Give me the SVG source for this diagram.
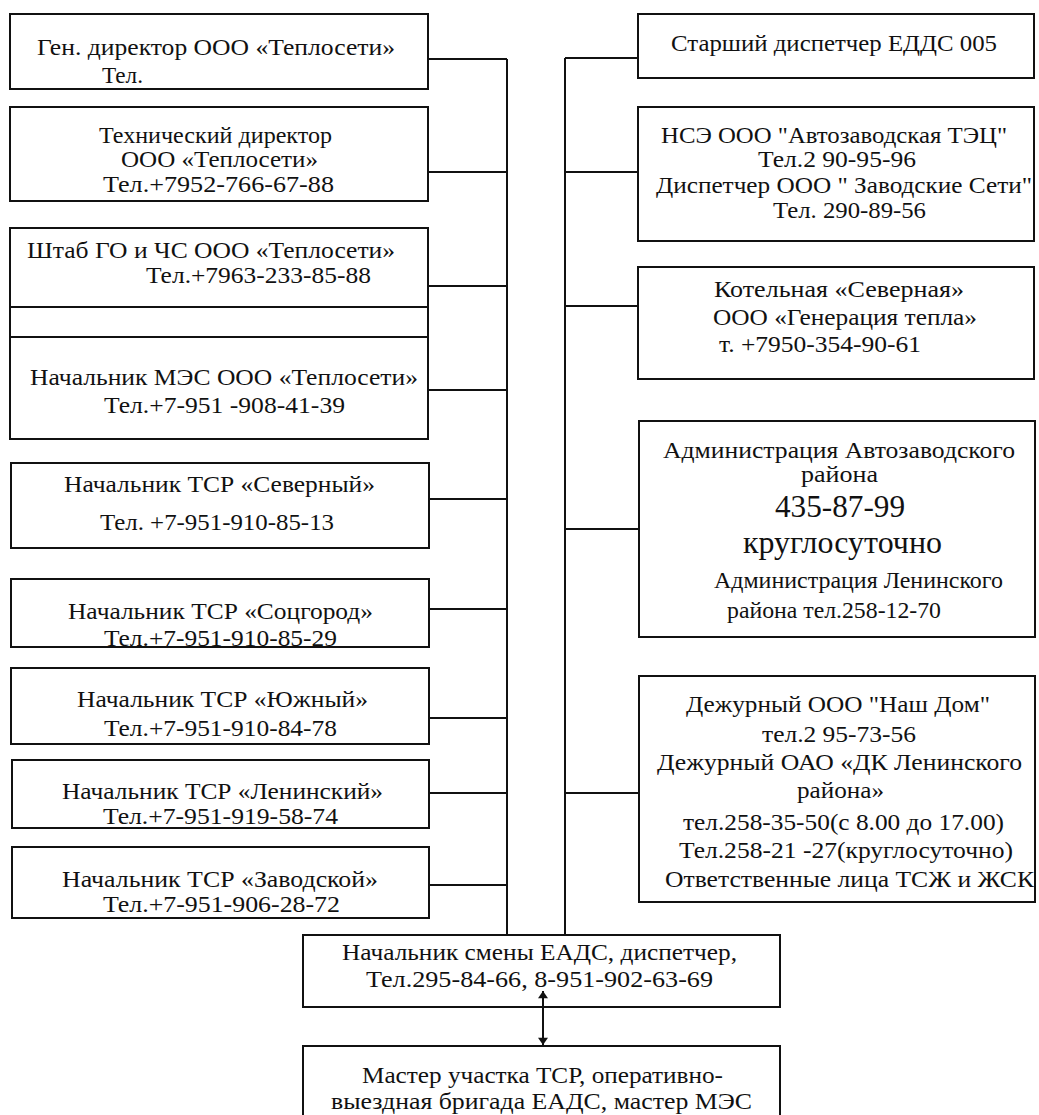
<svg xmlns="http://www.w3.org/2000/svg" width="1039" height="1115" viewBox="0 0 1039 1115">
<style>
.box{fill:#fff;stroke:#111;stroke-width:2}
.ln{fill:none;stroke:#111;stroke-width:2}
text{font-family:'Liberation Serif','Times New Roman',Tinos,'Noto Serif','DejaVu Serif',FreeSerif,Times,serif;font-size:24px;fill:#111}
.big{font-size:31px}
</style>
<defs>
<marker id="ah" viewBox="0 0 10 14" refX="10" refY="7" markerWidth="7" markerHeight="5" orient="auto-start-reverse" markerUnits="strokeWidth">
<path d="M0,0 L10,7 L0,14 z" fill="#111"/>
</marker>
</defs>
<rect width="1039" height="1115" fill="#fff"/>
<g id="gen-director">
<rect class="box" x="10" y="14" width="418" height="75"/>
<text x="37" y="55" textLength="358" lengthAdjust="spacingAndGlyphs">Ген. директор ООО «Теплосети»</text>
<text x="102" y="83" textLength="41" lengthAdjust="spacingAndGlyphs">Тел.</text>
</g>
<g id="tech-director">
<rect class="box" x="10" y="107" width="418" height="94"/>
<text x="99" y="143" textLength="233" lengthAdjust="spacingAndGlyphs">Технический директор</text>
<text x="121" y="167" textLength="197" lengthAdjust="spacingAndGlyphs">ООО «Теплосети»</text>
<text x="103" y="192" textLength="231" lengthAdjust="spacingAndGlyphs">Тел.+7952-766-67-88</text>
</g>
<g id="shtab-go-chs">
<rect class="box" x="10" y="228" width="418" height="79"/>
<text x="27" y="258" textLength="368" lengthAdjust="spacingAndGlyphs">Штаб ГО и ЧС ООО «Теплосети»</text>
<text x="146" y="283" textLength="225" lengthAdjust="spacingAndGlyphs">Тел.+7963-233-85-88</text>
</g>
<g id="empty-band">
<rect class="box" x="10" y="307" width="418" height="30"/>
</g>
<g id="mes">
<rect class="box" x="10" y="337" width="418" height="102"/>
<text x="30" y="385" textLength="388" lengthAdjust="spacingAndGlyphs">Начальник МЭС ООО «Теплосети»</text>
<text x="104" y="413" textLength="241" lengthAdjust="spacingAndGlyphs">Тел.+7-951 -908-41-39</text>
</g>
<g id="tsr-severny">
<rect class="box" x="11" y="463" width="418" height="85"/>
<text x="64" y="492" textLength="311" lengthAdjust="spacingAndGlyphs">Начальник ТСР «Северный»</text>
<text x="100" y="530" textLength="234" lengthAdjust="spacingAndGlyphs">Тел. +7-951-910-85-13</text>
</g>
<g id="tsr-sotsgorod">
<rect class="box" x="11" y="579" width="418" height="68"/>
<text x="68" y="619" textLength="305" lengthAdjust="spacingAndGlyphs">Начальник ТСР «Соцгород»</text>
<text x="104" y="646" textLength="233" lengthAdjust="spacingAndGlyphs">Тел.+7-951-910-85-29</text>
</g>
<g id="tsr-yuzhny">
<rect class="box" x="11" y="668" width="418" height="76"/>
<text x="77" y="707" textLength="291" lengthAdjust="spacingAndGlyphs">Начальник ТСР «Южный»</text>
<text x="104" y="736" textLength="233" lengthAdjust="spacingAndGlyphs">Тел.+7-951-910-84-78</text>
</g>
<g id="tsr-leninsky">
<rect class="box" x="12" y="760" width="417" height="68"/>
<text x="62" y="799" textLength="321" lengthAdjust="spacingAndGlyphs">Начальник ТСР «Ленинский»</text>
<text x="103" y="824" textLength="235" lengthAdjust="spacingAndGlyphs">Тел.+7-951-919-58-74</text>
</g>
<g id="tsr-zavodskoy">
<rect class="box" x="12" y="847" width="417" height="71"/>
<text x="62" y="887" textLength="316" lengthAdjust="spacingAndGlyphs">Начальник ТСР «Заводской»</text>
<text x="103" y="912" textLength="237" lengthAdjust="spacingAndGlyphs">Тел.+7-951-906-28-72</text>
</g>
<g id="senior-dispatcher">
<rect class="box" x="638" y="14" width="396" height="64"/>
<text x="671" y="51" textLength="326" lengthAdjust="spacingAndGlyphs">Старший диспетчер ЕДДС 005</text>
</g>
<g id="nse-tec">
<rect class="box" x="638" y="107" width="396" height="134"/>
<text x="661" y="143" textLength="346" lengthAdjust="spacingAndGlyphs">НСЭ ООО "Автозаводская ТЭЦ"</text>
<text x="758" y="167" textLength="158" lengthAdjust="spacingAndGlyphs">Тел.2 90-95-96</text>
<text x="656" y="193" textLength="376" lengthAdjust="spacingAndGlyphs">Диспетчер ООО " Заводские  Сети"</text>
<text x="773" y="218" textLength="153" lengthAdjust="spacingAndGlyphs">Тел. 290-89-56</text>
</g>
<g id="boiler-severnaya">
<rect class="box" x="638" y="267" width="396" height="112"/>
<text x="714" y="297" textLength="250" lengthAdjust="spacingAndGlyphs">Котельная  «Северная»</text>
<text x="713" y="325" textLength="264" lengthAdjust="spacingAndGlyphs">ООО «Генерация тепла»</text>
<text x="719" y="352" textLength="202" lengthAdjust="spacingAndGlyphs">т. +7950-354-90-61</text>
</g>
<g id="administration">
<rect class="box" x="639" y="421" width="396" height="216"/>
<text x="663" y="458" textLength="352" lengthAdjust="spacingAndGlyphs">Администрация Автозаводского</text>
<text x="801" y="482" textLength="77" lengthAdjust="spacingAndGlyphs">района</text>
<text class="big" x="775" y="517" textLength="130" lengthAdjust="spacingAndGlyphs">435-87-99</text>
<text class="big" x="743" y="553" textLength="199" lengthAdjust="spacingAndGlyphs">круглосуточно</text>
<text x="714" y="588" textLength="289" lengthAdjust="spacingAndGlyphs">Администрация Ленинского</text>
<text x="727" y="618" textLength="214" lengthAdjust="spacingAndGlyphs">района тел.258-12-70</text>
</g>
<g id="duty-officers">
<rect class="box" x="639" y="676" width="396" height="226"/>
<text x="686" y="712" textLength="304" lengthAdjust="spacingAndGlyphs">Дежурный ООО "Наш Дом"</text>
<text x="762" y="742" textLength="154" lengthAdjust="spacingAndGlyphs">тел.2 95-73-56</text>
<text x="657" y="770" textLength="365" lengthAdjust="spacingAndGlyphs">Дежурный ОАО «ДК Ленинского</text>
<text x="797" y="798" textLength="87" lengthAdjust="spacingAndGlyphs">района»</text>
<text x="683" y="830" textLength="321" lengthAdjust="spacingAndGlyphs">тел.258-35-50(с 8.00 до 17.00)</text>
<text x="679" y="858" textLength="334" lengthAdjust="spacingAndGlyphs">Тел.258-21 -27(круглосуточно)</text>
<text x="665" y="887" textLength="369" lengthAdjust="spacingAndGlyphs">Ответственные лица ТСЖ и ЖСК</text>
</g>
<g id="shift-chief">
<rect class="box" x="303" y="935" width="477" height="72"/>
<text x="342" y="960" textLength="395" lengthAdjust="spacingAndGlyphs">Начальник смены ЕАДС, диспетчер,</text>
<text x="366" y="987" textLength="347" lengthAdjust="spacingAndGlyphs">Тел.295-84-66, 8-951-902-63-69</text>
</g>
<g id="field-team">
<rect class="box" x="303" y="1046" width="477" height="90"/>
<text x="362" y="1083" textLength="361" lengthAdjust="spacingAndGlyphs">Мастер участка ТСР, оперативно-</text>
<text x="331" y="1109" textLength="421" lengthAdjust="spacingAndGlyphs">выездная бригада ЕАДС, мастер МЭС</text>
</g>
<g id="connectors">
<polyline class="ln" points="507,59 507,934"/>
<line class="ln" x1="429" y1="59" x2="507" y2="59"/>
<line class="ln" x1="429" y1="172" x2="507" y2="172"/>
<line class="ln" x1="429" y1="286" x2="507" y2="286"/>
<line class="ln" x1="429" y1="390" x2="507" y2="390"/>
<line class="ln" x1="430" y1="499" x2="507" y2="499"/>
<line class="ln" x1="430" y1="609" x2="507" y2="609"/>
<line class="ln" x1="430" y1="718" x2="507" y2="718"/>
<line class="ln" x1="430" y1="793" x2="507" y2="793"/>
<line class="ln" x1="430" y1="885" x2="507" y2="885"/>
<polyline class="ln" points="565,58 565,934"/>
<line class="ln" x1="565" y1="58" x2="637" y2="58"/>
<line class="ln" x1="565" y1="172" x2="637" y2="172"/>
<line class="ln" x1="565" y1="306" x2="637" y2="306"/>
<line class="ln" x1="565" y1="529" x2="638" y2="529"/>
<line class="ln" x1="565" y1="793" x2="638" y2="793"/>
<line class="ln" x1="543" y1="991" x2="543" y2="1045" marker-start="url(#ah)" marker-end="url(#ah)"/>
</g>
</svg>
